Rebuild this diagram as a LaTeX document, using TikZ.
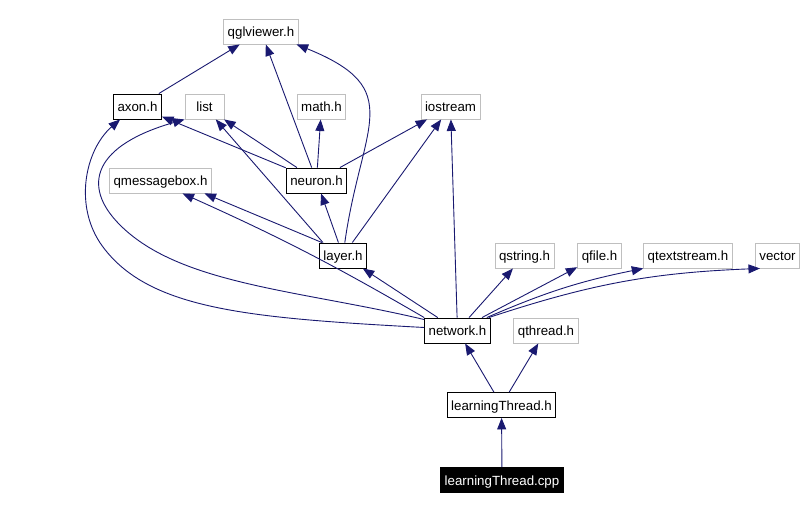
\documentclass[tikz,border=0pt]{standalone}
\usepackage{fontspec}
\setmainfont{Liberation Sans}
\usetikzlibrary{arrows.meta}
\definecolor{edgeblue}{RGB}{25,25,112}
\definecolor{boxgray}{RGB}{191,191,191}

\begin{document}
\begin{tikzpicture}[x=1pt,y=1pt,->,>={Triangle[length=11.5pt,width=9pt]},line width=0.9pt,color=edgeblue,
      file node/.style={rectangle,draw=black,text=black,inner xsep=4pt,inner ysep=0pt,
        text height=11pt,text depth=0pt,minimum height=25pt,line width=0.9pt,
        font=\fontsize{13.3}{15}\selectfont},
      ext node/.style={file node,draw=boxgray},
      main node/.style={file node,fill=black,text=white}]
      \useasboundingbox (0,0) rectangle (808,-510);

      \node[ext node] (qglviewer) at (261,-31.5) {qglviewer.h};
      \node[file node] (axon) at (137.5,-106.5) {axon.h};
      \node[ext node,minimum width=39pt] (list) at (204.5,-106.5) {list};
      \node[ext node] (math) at (321.5,-106.5) {math.h};
      \node[ext node] (iostream) at (450.5,-106.5) {iostream};
      \node[ext node] (qmessagebox) at (160.5,-180.5) {qmessagebox.h};
      \node[file node] (neuron) at (316.5,-180.5) {neuron.h};
      \node[file node] (layer) at (343,-255.5) {layer.h};
      \node[ext node] (qstring) at (524.5,-255.5) {qstring.h};
      \node[ext node] (qfile) at (599.5,-255.5) {qfile.h};
      \node[ext node] (qtextstream) at (688,-255.5) {qtextstream.h};
      \node[ext node] (vector) at (777.5,-255.5) {vector};
      \node[file node] (network) at (457.5,-330.5) {network.h};
      \node[ext node] (qthread) at (546,-330.5) {qthread.h};
      \node[file node] (lthreadh) at (501.5,-405) {learningThread.h};
      \node[main node] (lthreadcpp) at (502,-480) {learningThread.cpp};

      \path[->]
        (axon) edge (qglviewer)
        (neuron) edge (qglviewer)
        (layer) edge [out=82,in=-22,looseness=1.5] (qglviewer.-20)
        (neuron) edge (axon)
        (neuron) edge (list)
        (neuron) edge (math)
        (neuron) edge (iostream)

        ([xshift=4pt]layer.north west) edge (list)
        (layer) edge (neuron)
        (layer) edge (iostream)
        ([xshift=3pt]layer.north west) edge ([xshift=44pt]qmessagebox.south)

        (network) edge (layer)
        (network.north west) edge [bend right=3] ([xshift=22pt]qmessagebox.south)
        (network) edge (iostream)
        (network) edge (qstring)
        (network) edge (qfile)
        ([xshift=-4pt]network.north east) edge [bend left=6] (qtextstream.south west)
        ([xshift=-2pt]network.north east) edge [bend left=8] ([xshift=5pt]vector.south west)

        (lthreadh) edge (network)
        (lthreadh) edge (qthread)
        (lthreadcpp) edge (lthreadh);

      % long detours round the left side
      \draw ([yshift=3pt]network.west) .. controls (250,-318) and (150,-310) .. (103,-247)
        .. controls (73,-207) and (85,-150) .. ([xshift=7pt]axon.south west);
      \draw ([yshift=-2pt]network.north west) .. controls (300,-290) and (180,-285) .. (120,-225)
        .. controls (80,-185) and (95,-145) .. (list.south west);
    \end{tikzpicture}
\end{document}
